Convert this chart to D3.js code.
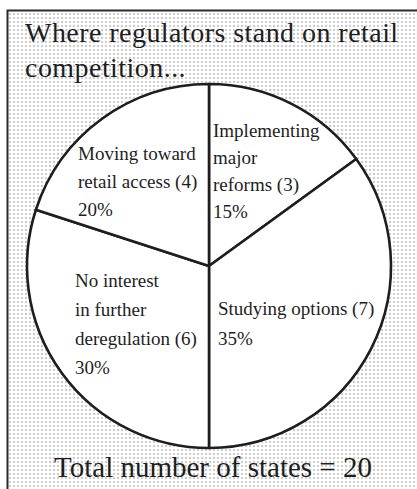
<!DOCTYPE html>
<html>
<head>
<meta charset="utf-8">
<script src="https://cdn.jsdelivr.net/npm/d3@7"></script>
<style>
  html, body { margin: 0; padding: 0; background: #fff; }
  svg { display: block; }
  text { font-family: "Liberation Serif", "Times New Roman", serif; fill: #1e1e1e; }
</style>
</head>
<body>
<svg id="chart" width="417" height="489"></svg>
<script>
// data
var categories = [
  ["Implementing", "major", "reforms"],
  ["Studying options"],
  ["No interest", "in further", "deregulation"],
  ["Moving toward", "retail access"]
];
var states = [3, 7, 6, 4];
var titleLines = ["Where regulators stand on retail", "competition..."];
var footer = "Total number of states = ";

var W = 417, H = 489,
    cx = 209, cy = 266, r = 182;

// where each label block starts, relative to the pie centre
var labelAt = [[4, -129], [9, 49], [-134, 21], [-131, -106]];
var labelStep = [27, 30, 29, 28];

var svg = d3.select("#chart");

// stipple background
var pat = svg.append("defs").append("pattern")
  .attr("id", "dots")
  .attr("width", 4).attr("height", 4)
  .attr("patternUnits", "userSpaceOnUse");
pat.append("rect").attr("width", 4).attr("height", 4).attr("fill", "#fff");
pat.append("rect").attr("x", 1).attr("y", 1).attr("width", 2).attr("height", 2).attr("fill", "#cdcdcd");

svg.append("rect").attr("x", 8).attr("y", 11).attr("width", W - 8).attr("height", H - 11)
  .attr("fill", "url(#dots)");

// frame, only left and top edges show
svg.append("path")
  .attr("d", "M7.5," + H + "V10.5H" + W)
  .attr("fill", "none").attr("stroke", "#2a2a2a").attr("stroke-width", 2);

// title
svg.append("g").selectAll("text")
  .data(titleLines)
  .enter().append("text")
  .attr("x", 25)
  .attr("y", function (d, i) { return 42 + i * 35; })
  .style("font-size", "28px")
  .style("letter-spacing", "0.45px")
  .text(function (d) { return d; });

// pie
var total = d3.sum(states);
var pie = d3.pie().sort(null).value(function (d) { return d; });
var arc = d3.arc().innerRadius(0).outerRadius(r);
var slices = pie(states);

var g = svg.append("g").attr("transform", "translate(" + cx + "," + cy + ")");

g.selectAll("path")
  .data(slices)
  .enter().append("path")
  .attr("d", arc)
  .attr("fill", "#fff")
  .attr("stroke", "#1e1e1e")
  .attr("stroke-width", 2.6)
  .attr("stroke-linejoin", "round");

// labels
var pct = d3.format(".0%");
g.selectAll("text.lab")
  .data(slices)
  .enter().append("text")
  .attr("class", "lab")
  .style("font-size", "19px")
  .each(function (d, i) {
    var lines = categories[i].slice();
    lines[lines.length - 1] += " (" + d.value + ")";
    lines.push(pct(d.value / total));
    d3.select(this).selectAll("tspan")
      .data(lines)
      .enter().append("tspan")
      .attr("x", labelAt[i][0])
      .attr("y", function (t, j) { return labelAt[i][1] + j * labelStep[i]; })
      .text(function (t) { return t; });
  });

// footer
svg.append("text")
  .attr("x", 213)
  .attr("y", 477)
  .attr("text-anchor", "middle")
  .style("font-size", "29px")
  .text(footer + total);
</script>
</body>
</html>
